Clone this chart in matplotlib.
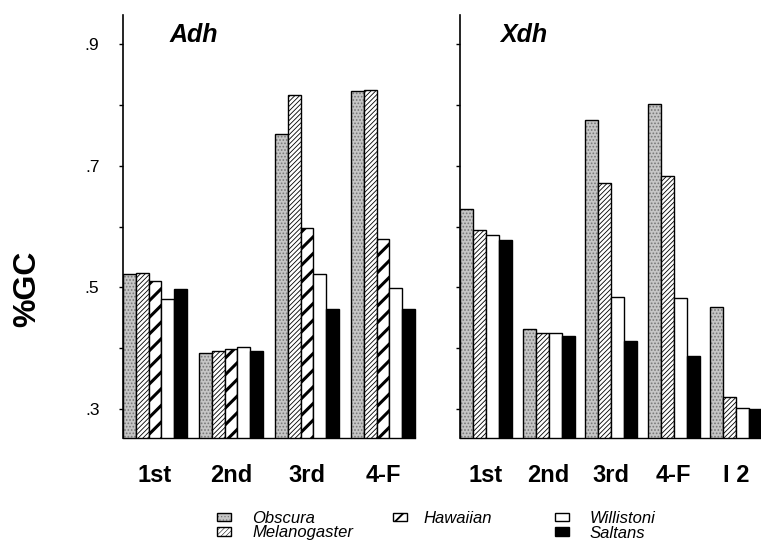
import matplotlib.pyplot as plt
import numpy as np

plt.rcParams['font.family'] = ['Liberation Sans', 'DejaVu Sans']

# %GC values
species = ['Obscura', 'Melanogaster', 'Hawaiian', 'Willistoni', 'Saltans']

adh_groups = ['1st', '2nd', '3rd', '4-F']
adh_obscura = [0.522, 0.392, 0.752, 0.823]
adh_melanogaster = [0.524, 0.395, 0.816, 0.825]
adh_hawaiian = [0.510, 0.398, 0.598, 0.579]
adh_willistoni = [0.481, 0.402, 0.522, 0.498]
adh_saltans = [0.497, 0.395, 0.465, 0.464]

xdh_groups = ['1st', '2nd', '3rd', '4-F', 'I 2']
xdh_obscura = [0.629, 0.431, 0.775, 0.801, 0.467]
xdh_melanogaster = [0.594, 0.425, 0.671, 0.683, 0.319]
xdh_willistoni = [0.586, 0.425, 0.484, 0.482, 0.302]
xdh_saltans = [0.578, 0.420, 0.411, 0.387, 0.300]

yticks = [0.3, 0.5, 0.7, 0.9]
ytick_labels = ['.3', '.5', '.7', '.9']
yminor = [0.4, 0.6, 0.8]

hatch_widths = {'Obscura': 0.8, 'Melanogaster': 0.6, 'Hawaiian': 2.2}


def hatch_lw(bars, lw):
    for p in bars:
        if hasattr(p, 'set_hatch_linewidth'):
            p.set_hatch_linewidth(lw)


def draw_bar(ax, name, values, k, w):
    x = np.arange(len(values)) + k * w
    if name == 'Obscura':
        tex = ax.bar(x, values, w, align='edge', facecolor='#c6c6c6',
                     edgecolor='#777777', hatch='.....', linewidth=0)
        hatch_lw(tex, hatch_widths[name])
        out = ax.bar(x, values, w, align='edge', fill=False,
                     edgecolor='black', linewidth=1.0)
        return (tex, out)
    if name == 'Melanogaster':
        b = ax.bar(x, values, w, align='edge', facecolor='white',
                   edgecolor='black', hatch='///////', linewidth=1.0)
        hatch_lw(b, hatch_widths[name])
        return b
    if name == 'Hawaiian':
        b = ax.bar(x, values, w, align='edge', facecolor='white',
                   edgecolor='black', hatch='//', linewidth=1.0)
        hatch_lw(b, hatch_widths[name])
        return b
    if name == 'Willistoni':
        return ax.bar(x, values, w, align='edge', facecolor='white',
                      edgecolor='black', linewidth=1.0)
    return ax.bar(x, values, w, align='edge', facecolor='black',
                  edgecolor='black', linewidth=1.0)


def style_axis(ax, groups, nser, w, show_labels):
    ax.set_ylim(0.252, 0.948)
    for s in ['top', 'right']:
        ax.spines[s].set_visible(False)
    ax.spines['left'].set_linewidth(1.2)
    ax.spines['bottom'].set_linewidth(1.0)
    ax.spines['bottom'].set_bounds(0, len(groups) - 1 + nser * w)
    ax.set_yticks(yticks)
    ax.set_yticks(yminor, minor=True)
    ax.set_yticklabels(ytick_labels if show_labels else [])
    ax.tick_params(axis='y', which='both', direction='out', length=3,
                   width=1, labelsize=12.5, pad=14)
    ax.set_xticks(np.arange(len(groups)) + nser * w / 2)
    ax.set_xticklabels(groups, fontsize=17, fontweight='bold')
    ax.tick_params(axis='x', length=0, pad=19)


fig = plt.figure(figsize=(7.61, 5.43), dpi=100)
ax1 = fig.add_axes([123 / 761, 105 / 543, 322 / 761, 423 / 543])
ax2 = fig.add_axes([460 / 761, 105 / 543, 301 / 761, 423 / 543])

wl = 0.168
adh_series = [adh_obscura, adh_melanogaster, adh_hawaiian, adh_willistoni, adh_saltans]
handles = {}
for k, (name, vals) in enumerate(zip(species, adh_series)):
    handles[name] = draw_bar(ax1, name, vals, k, wl)
ax1.set_xlim(0, 322 / 76)
style_axis(ax1, adh_groups, 5, wl, True)

wr = 0.208
xdh_names = ['Obscura', 'Melanogaster', 'Willistoni', 'Saltans']
xdh_series = [xdh_obscura, xdh_melanogaster, xdh_willistoni, xdh_saltans]
for k, (name, vals) in enumerate(zip(xdh_names, xdh_series)):
    draw_bar(ax2, name, vals, k, wr)
ax2.set_xlim(0, 301 / 62.5)
style_axis(ax2, xdh_groups, 4, wr, False)

ax1.text(0.146, 0.936, 'Adh', transform=ax1.transAxes, fontsize=18,
         fontweight='bold', fontstyle='italic', va='baseline')
ax2.text(0.133, 0.936, 'Xdh', transform=ax2.transAxes, fontsize=18,
         fontweight='bold', fontstyle='italic', va='baseline')

fig.text(27 / 761, 1 - 289 / 543, '%GC', rotation=90, fontsize=23,
         fontweight='bold', ha='center', va='center')

legend_cols = [
    (['Obscura', 'Melanogaster'], 217, 1.25),
    (['Hawaiian'], 393, 1.0),
    (['Willistoni', 'Saltans'], 555, 1.2),
]
for names, xpx, pad in legend_cols:
    leg = fig.legend([handles[n] for n in names], names, loc='upper left',
                     bbox_to_anchor=(xpx / 761, 1 - 511 / 543), frameon=False,
                     borderpad=0, borderaxespad=0, handlelength=0.85,
                     handleheight=0.4, handletextpad=pad, labelspacing=-0.03,
                     prop={'size': 12, 'style': 'italic'})
    for n, h in zip(names, leg.legend_handles):
        if n in hatch_widths and hasattr(h, 'set_hatch_linewidth'):
            h.set_hatch_linewidth(hatch_widths[n] * 0.6)

fig.savefig('out.png', dpi=100)
